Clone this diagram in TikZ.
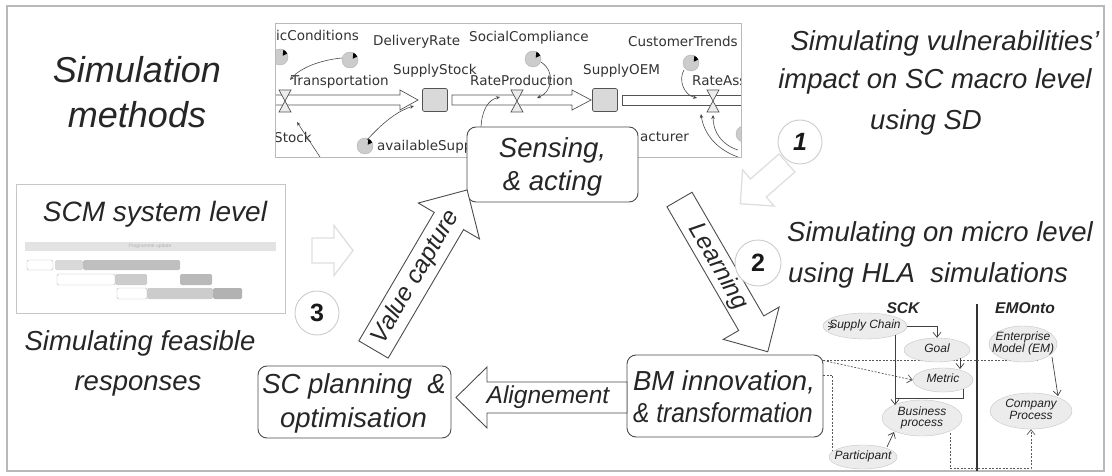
\documentclass[tikz,border=0pt]{standalone}
\usepackage{fontspec}
\usepackage{graphicx}
\setmainfont{Liberation Sans}
\newfontfamily\sdfont{DejaVu Sans}
\usetikzlibrary{arrows.meta,calc,shapes.geometric}

% hollow block arrow: style, base point, angle, length, shaft width, head width, head length
\newcommand\blockarrow[7]{%
  \draw[#1,shift={#2},rotate=#3]
    (0,-#5/2) -- ({#4-#7},-#5/2) -- ({#4-#7},-#6/2) -- (#4,0)
    -- ({#4-#7},#6/2) -- ({#4-#7},#5/2) -- (0,#5/2) -- cycle;}
% label of fixed zero width so the ellipse keeps its own size
\newcommand\ontolabel[1]{\makebox[0pt]{\begin{tabular}{@{}c@{}}#1\end{tabular}}}

\begin{document}
\begin{tikzpicture}[x=1pt,y=-1pt,
  frame/.style={draw=gray!55,line width=1.2pt},
  ttl/.style={anchor=base,inner sep=0pt,text=black!85,font=\fontsize{36}{40}\selectfont\itshape},
  txt/.style={anchor=base,inner sep=0pt,text=black!85,font=\fontsize{27.5}{32}\selectfont\itshape},
  scm/.style={anchor=base,inner sep=0pt,text=black!85,font=\fontsize{28}{32}\selectfont\itshape},
  atxt/.style={inner sep=0pt,text=black!85,font=\fontsize{24.5}{28}\selectfont\itshape},
  box/.style={draw=gray!60!black,fill=white,rounded corners=9pt,line width=0.9pt,inner sep=0pt},
  barrow/.style={draw=gray!60!black,fill=white,line width=0.9pt},
  faint/.style={draw=gray!25,fill=white,line width=1.3pt},
  numc/.style={circle,draw=gray!40,fill=white,line width=0.9pt,minimum size=44pt,inner sep=0pt,text=black!90,font=\fontsize{25}{28}\selectfont\bfseries},
  sd/.style={anchor=base west,inner sep=0pt,text=black!80,font=\sdfont\fontsize{13.5}{15}\selectfont},
  pipe/.style={draw=gray!65!black,fill=white,line width=0.7pt},
  valve/.style={draw=gray!65!black,fill=gray!15,line width=0.7pt},
  stock/.style={draw=gray!65!black,fill=gray!30,minimum width=25pt,minimum height=23pt,rounded corners=2pt,inner sep=0pt,line width=0.7pt},
  link/.style={draw=gray!60!black,line width=0.6pt,-{Stealth[length=4pt,width=3.5pt]}},
  onto/.style={ellipse,draw=gray!45,fill=gray!15,inner sep=0pt,text=gray!25!black,font=\fontsize{12}{11}\selectfont\itshape},
  ontohead/.style={anchor=base,inner sep=0pt,text=black!85,font=\fontsize{15.6}{18}\selectfont\bfseries\itshape},
  pl/.style={draw=black!75,line width=0.7pt},
  plarr/.style={pl,-{Straight Barb[length=5pt,width=8pt]}},
  dsh/.style={draw=black!65,line width=0.7pt,dash pattern=on 2pt off 1.5pt},
  gantt/.style={rounded corners=1.5pt}
]
\useasboundingbox (0,0) rectangle (1112,476);
\fill[white] (0,0) rectangle (1112,476);
\draw[frame] (7,6) rectangle (1104,471);

% ---------- titles and captions ----------
\node[ttl] (sim1) at (137,83) {Simulation};
\node[ttl] (sim2) at (137,128) {methods};
\node[txt] (feas1) at (140,350) {Simulating feasible};
\node[txt] (feas2) at (138,390) {responses};
\node[txt] (mac1) at (945,51) {Simulating vulnerabilities'};
\node[txt] (mac2) at (935,89) {impact on SC macro level};
\node[txt] (mac3) at (926,130) {using SD};
\node[txt,anchor=base west] (mic1) at (787,241) {Simulating on micro level};
\node[txt,anchor=base west] (mic2) at (788,282) {using HLA~~simulations};

% ---------- system dynamics model ----------
\begin{scope}
  \clip (275,23) rectangle (741,157);
  \draw[pipe] (268,95) -- (400,95) -- (400,90) -- (418,100) -- (400,110) -- (400,105) -- (268,105) -- cycle;
  \draw[pipe] (452,95) -- (572,95) -- (572,90) -- (591,100) -- (572,110) -- (572,105) -- (452,105) -- cycle;
  \draw[pipe] (748,95) -- (622,95) -- (622,105) -- (748,105);
  \foreach \vx in {285,517,713}
    \draw[valve] (\vx-6,90) -- (\vx+6,90) -- (\vx-6,112) -- (\vx+6,112) -- cycle;
  \node[stock] (ss) at (435,100) {};
  \node[stock] (soem) at (605,100) {};
  \foreach \cx/\cy in {280/57,350/60,533/59,691/63,365/146,744/134}{
    \filldraw[fill=gray!40,draw=gray!60] (\cx,\cy) circle[radius=8];
    \fill[black] (\cx,\cy) ++(-25:3) -- ++(-25:5) arc[start angle=-25,end angle=-65,radius=8] -- cycle;
  }
  \node[sd] (l1) at (276,41) {icConditions};
  \node[sd] (l2) at (373,46) {DeliveryRate};
  \node[sd] (l3) at (469,42) {SocialCompliance};
  \node[sd] (l4) at (628,47) {CustomerTrends};
  \node[sd] (l5) at (393,75) {SupplyStock};
  \node[sd] (l6) at (291,86) {Transportation};
  \node[sd] (l7) at (470,86) {RateProduction};
  \node[sd] (l8) at (583,75) {SupplyOEM};
  \node[sd] (l9) at (692,86) {RateAss};
  \node[sd] (l10) at (274,143) {Stock};
  \node[sd] (l11) at (377,151) {availableSupp};
  \node[sd] (l12) at (640,142) {acturer};
  \draw[link] (342,58) .. controls (320,60) and (300,68) .. (290,80);
  \draw[link] (320,157) -- (297,122);
  \draw[link] (367,140) .. controls (385,120) and (400,110) .. (414,106);
  \draw[link] (541,62) .. controls (556,72) and (552,92) .. (537,98);
  \draw[link] (481,127) .. controls (482,110) and (488,100) .. (500,97);
  \draw[link] (684,70) .. controls (678,80) and (684,95) .. (697,98);
  \draw[link] (738,157) .. controls (718,150) and (704,135) .. (701,114);
  \draw[link] (738,150) .. controls (722,145) and (713,132) .. (713,115);
\end{scope}
\draw[gray!55,line width=0.8pt] (275,23) rectangle (741,157);

% ---------- SCM system level panel ----------
\draw[gray!45,line width=1pt] (16,185) rectangle (285,313);
\node[scm] (scmt) at (155,222) {SCM system level};
\fill[gray!22] (25,242) rectangle (276,251);
\node[inner sep=0pt,text=gray!60,font=\fontsize{5}{6}\selectfont] (ghead) at (150,246.5) {Programme update};
\draw[gray!55,fill=white,gantt] (27,260) rectangle (53,270);
\fill[gray!30,gantt] (55,260) rectangle (83,270);
\fill[gray!50,gantt] (83,260) rectangle (180,270);
\draw[gray!55,fill=white,gantt] (57,274) rectangle (115,285);
\fill[gray!40,gantt] (115,274) rectangle (147,285);
\fill[gray!55,gantt] (180,274) rectangle (212,285);
\draw[gray!55,fill=white,gantt] (117,288) rectangle (147,299);
\fill[gray!40,gantt] (147,288) rectangle (213,299);
\fill[gray!60,gantt] (213,288) rectangle (242,299);

% ---------- cycle boxes ----------
\node[box,minimum width=171pt,minimum height=75pt] (sense) at (552.5,164.5) {};
\node[txt] (sense1) at (552.5,158) {Sensing,};
\node[txt] (sense2) at (552.5,190) {\& acting};
\node[box,minimum width=193pt,minimum height=72pt] (scp) at (354.5,402) {};
\node[txt] (scp1) at (354,393) {SC planning~~\&};
\node[txt] (scp2) at (353.5,427) {optimisation};
\node[box,minimum width=196pt,minimum height=82pt] (bm) at (725,396) {};
\node[txt] (bm1) at (724,390) {BM innovation,};
\node[txt] (bm2) at (723,422) {\scalebox{0.89}[1]{\& transformation}};

% ---------- block arrows of the cycle ----------
\blockarrow{barrow}{(627,397.5)}{180}{171}{31}{61}{31}
\node[atxt] (alig) at (548,397) {Alignement};
\blockarrow{barrow}{(373.5,349.5)}{59.6}{185}{34}{71}{36}
\node[atxt,rotate=59.6] (vc) at (416,277) {Value capture};
\blockarrow{barrow}{(679.5,199.5)}{-59.9}{176}{29}{64.5}{33}
\node[atxt,rotate=-59.9] (lrn) at (718,267) {Learning};

% faint pointers
\blockarrow{faint}{(312,250.5)}{0}{41}{25}{50}{19}
\blockarrow{faint}{(787,163)}{221.1}{62}{24}{48}{24}

% step numbers
\node[numc] (n1) at (800,142) {\itshape 1};
\node[numc,minimum size=46pt] (n2) at (758,263) {2};
\node[numc] (n3) at (317,313) {3};

% ---------- SCK / EMOnto ontologies ----------
\node[ontohead] (sck) at (903,313) {SCK};
\node[ontohead] (emo) at (1025,313) {EMOnto};
\draw[black!80,line width=1.3pt] (977,304) -- (977,471);

\coordinate (dstart) at ($(bm.north east)+(0,6)$);
\draw[dsh] (dstart) -- ++(215,0);

\node[onto,minimum width=84pt,minimum height=26pt] (sc) at (865,326) {\ontolabel{Supply Chain}};
\node[onto,minimum width=66pt,minimum height=24pt] (goal) at (937,350) {\ontolabel{Goal}};
\node[onto,minimum width=60pt,minimum height=24pt] (metric) at (943,380) {\ontolabel{Metric}};
\node[onto,minimum width=80pt,minimum height=36pt] (bp) at (922,418) {\ontolabel{Business\\process}};
\node[onto,minimum width=68pt,minimum height=24pt] (part) at (863,457) {\ontolabel{Participant}};
\node[onto,minimum width=68pt,minimum height=36pt] (em) at (1023,344) {\ontolabel{Enterprise\\Model (EM)}};
\node[onto,minimum width=82pt,minimum height=36pt] (cp) at (1031,411) {\ontolabel{Company\\Process}};

\draw[dsh,-{Straight Barb[length=5pt,width=8pt]}] (dstart) -- (metric.west);
\draw[dsh] ($(bm.east)+(0,-21)$) -| ($(part.west)+(4,-6)$);
\draw[dsh,-{Straight Barb[length=5pt,width=8pt]}] ($(bp.center)+(28,15)$) -- ++(0,35) -| (cp.south);

\draw[plarr] ($(sc.west)+(5,0)$) -- ($(sc.west)+(11,0)$);
\draw[plarr] (sc.east) -| (goal.north);
\draw[plarr] ($(sc.center)+(30,9)$) -- ($(bp.center)+(-27,-13)$);
\draw[plarr] ($(goal.center)+(23,8)$) -- ($(metric.center)+(17,-11)$);
\draw[pl] ($(metric.center)+(20,9)$) |- ($(bp.center)+(-27,-20)$);
\draw[plarr] ($(part.center)+(24,-10)$) -- ($(bp.center)+(-28,14)$);
\draw[plarr] ($(em.center)+(29,13)$) -- ($(cp.center)+(27,-15)$);
\end{tikzpicture}
\end{document}
